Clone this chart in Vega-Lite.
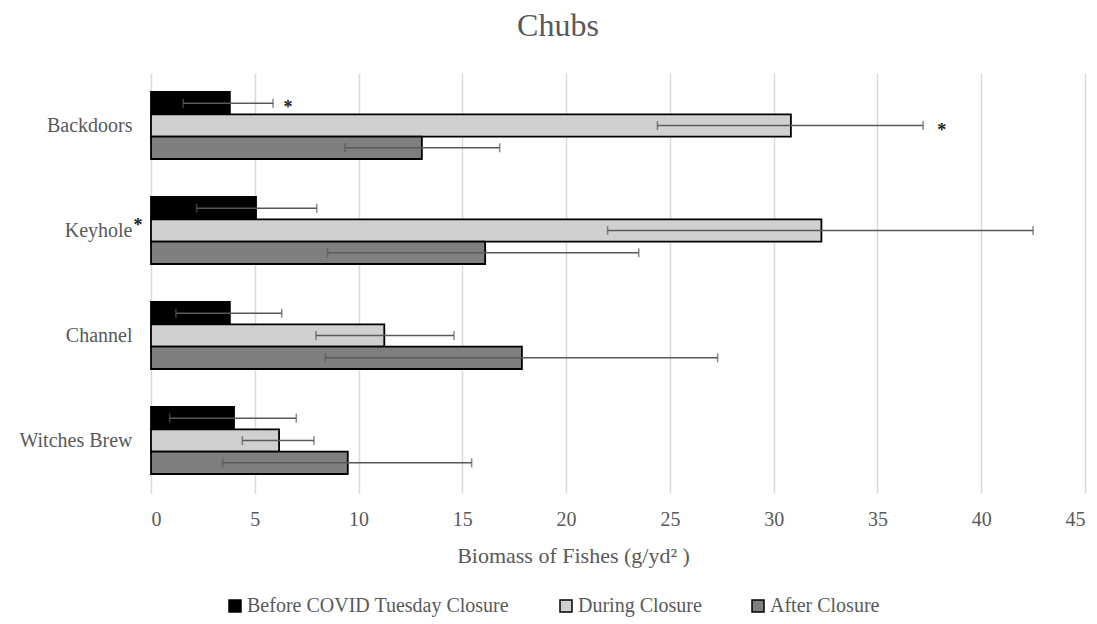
{
  "$schema": "https://vega.github.io/schema/vega-lite/v6.json",
  "width": 934,
  "height": 420,
  "autosize": {"type": "none"},
  "padding": {"left": 151, "top": 73, "right": 12, "bottom": 131},
  "background": "white",
  "title": {
    "text": "Chubs",
    "font": "Liberation Serif",
    "fontSize": 32,
    "fontWeight": "normal",
    "color": "#595959",
    "anchor": "middle",
    "frame": "group",
    "dx": -60,
    "offset": 30
  },
  "config": {
    "view": {"stroke": null},
    "font": "Liberation Serif"
  },
  "datasets": {
    "bars": [
      {"site": "Backdoors", "period": "Before COVID Tuesday Closure", "mean": 3.8, "lo": 1.55, "hi": 5.88},
      {"site": "Backdoors", "period": "During Closure", "mean": 30.83, "lo": 24.4, "hi": 37.2},
      {"site": "Backdoors", "period": "After Closure", "mean": 13.05, "lo": 9.35, "hi": 16.8},
      {"site": "Keyhole", "period": "Before COVID Tuesday Closure", "mean": 5.06, "lo": 2.2, "hi": 7.99},
      {"site": "Keyhole", "period": "During Closure", "mean": 32.3, "lo": 22.0, "hi": 42.5},
      {"site": "Keyhole", "period": "After Closure", "mean": 16.1, "lo": 8.5, "hi": 23.5},
      {"site": "Channel", "period": "Before COVID Tuesday Closure", "mean": 3.8, "lo": 1.2, "hi": 6.3},
      {"site": "Channel", "period": "During Closure", "mean": 11.24, "lo": 7.95, "hi": 14.6},
      {"site": "Channel", "period": "After Closure", "mean": 17.87, "lo": 8.4, "hi": 27.3},
      {"site": "Witches Brew", "period": "Before COVID Tuesday Closure", "mean": 4.0, "lo": 0.9, "hi": 7.0},
      {"site": "Witches Brew", "period": "During Closure", "mean": 6.17, "lo": 4.4, "hi": 7.85},
      {"site": "Witches Brew", "period": "After Closure", "mean": 9.48, "lo": 3.45, "hi": 15.45}
    ],
    "stars": [
      {"site": "Backdoors", "period": "Before COVID Tuesday Closure", "pos": 6.6, "label": "*"},
      {"site": "Backdoors", "period": "During Closure", "pos": 38.1, "label": "*"}
    ],
    "starsLabel": [
      {"site": "Keyhole", "period": "During Closure", "pos": -0.63, "label": "*"}
    ]
  },
  "encoding": {
    "y": {
      "field": "site",
      "type": "nominal",
      "sort": ["Backdoors", "Keyhole", "Channel", "Witches Brew"],
      "scale": {"paddingInner": 0.362, "paddingOuter": 0.181},
      "axis": {
        "title": null,
        "domain": false,
        "ticks": false,
        "labelFont": "Liberation Serif",
        "labelFontSize": 20,
        "labelColor": "#595959",
        "labelPadding": 19
      }
    },
    "yOffset": {
      "field": "period",
      "type": "nominal",
      "sort": ["Before COVID Tuesday Closure", "During Closure", "After Closure"],
      "scale": {"paddingInner": 0, "paddingOuter": 0}
    }
  },
  "layer": [
    {
      "data": {"name": "bars"},
      "mark": {"type": "bar", "stroke": "#000000", "strokeWidth": 1.8},
      "encoding": {
        "x": {
          "field": "mean",
          "type": "quantitative",
          "scale": {"domain": [0, 45], "nice": false},
          "axis": {
            "values": [0, 5, 10, 15, 20, 25, 30, 35, 40, 45],
            "domain": false,
            "ticks": false,
            "grid": true,
            "gridColor": "#d9d9d9",
            "gridWidth": 1.5,
            "labelFont": "Liberation Serif",
            "labelFontSize": 20,
            "labelColor": "#595959",
            "labelPadding": 16,
            "title": "Biomass of Fishes (g/yd² )",
            "titleFont": "Liberation Serif",
            "titleFontSize": 22,
            "titleFontWeight": "normal",
            "titleColor": "#595959",
            "titleX": 422,
            "titleY": 62,
            "titleAlign": "center",
            "titleBaseline": "middle"
          }
        },
        "color": {
          "field": "period",
          "type": "nominal",
          "sort": ["Before COVID Tuesday Closure", "During Closure", "After Closure"],
          "scale": {
            "domain": ["Before COVID Tuesday Closure", "During Closure", "After Closure"],
            "range": ["#000000", "#d0d0d0", "#7f7f7f"]
          },
          "legend": {
            "title": null,
            "orient": "none",
            "direction": "horizontal",
            "legendX": 74,
            "legendY": 523,
            "symbolType": "square",
            "symbolSize": 144,
            "symbolStrokeColor": "#000000",
            "symbolStrokeWidth": 1.5,
            "labelFont": "Liberation Serif",
            "labelFontSize": 20,
            "labelLimit": 0,
            "labelColor": "#595959",
            "labelOffset": 2,
            "columnPadding": 46
          }
        }
      }
    },
    {
      "data": {"name": "bars"},
      "mark": {"type": "rule", "color": "#595959", "strokeWidth": 1.5},
      "encoding": {
        "x": {"field": "lo", "type": "quantitative"},
        "x2": {"field": "hi"}
      }
    },
    {
      "data": {"name": "bars"},
      "mark": {"type": "tick", "color": "#595959", "thickness": 1.5, "size": 9},
      "encoding": {
        "x": {"field": "lo", "type": "quantitative"}
      }
    },
    {
      "data": {"name": "bars"},
      "mark": {"type": "tick", "color": "#595959", "thickness": 1.5, "size": 9},
      "encoding": {
        "x": {"field": "hi", "type": "quantitative"}
      }
    },
    {
      "data": {"name": "stars"},
      "mark": {"type": "text", "fontSize": 18, "fontWeight": "bold", "font": "Liberation Serif", "color": "#1a1a1a", "baseline": "middle", "dy": 5},
      "encoding": {
        "x": {"field": "pos", "type": "quantitative"},
        "text": {"field": "label"}
      }
    },
    {
      "data": {"name": "starsLabel"},
      "mark": {"type": "text", "fontSize": 18, "fontWeight": "bold", "font": "Liberation Serif", "color": "#1a1a1a", "baseline": "middle", "dy": -5},
      "encoding": {
        "x": {"field": "pos", "type": "quantitative"},
        "text": {"field": "label"}
      }
    }
  ]
}
